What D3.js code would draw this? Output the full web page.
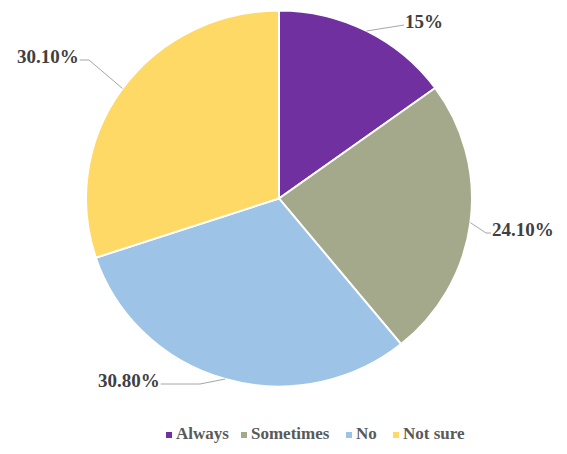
<!DOCTYPE html>
<html><head><meta charset="utf-8">
<script src="https://cdn.jsdelivr.net/npm/d3@7/dist/d3.min.js"></script>
<style>body{margin:0;background:#fff}</style>
</head><body>
<svg id="c" width="567" height="454"></svg>
<script>
const categories = ["Always", "Sometimes", "No", "Not sure"];
const values = [15, 24.1, 30.8, 30.1];
const labels = ["15%", "24.10%", "30.80%", "30.10%"];
const colors = ["#7030A0", "#A3A98A", "#9DC3E6", "#FFD966"];

const svg = d3.select("#c");
const cx = 279, cy = 198.5, rx = 193, ry = 188;
const g = svg.append("g").attr("transform", `translate(${cx},${cy}) scale(1,${ry/rx})`);
const pie = d3.pie().sort(null).value(d => d)(values);
const arc = d3.arc().innerRadius(0).outerRadius(rx);
g.selectAll("path").data(pie).join("path")
  .attr("d", arc).attr("fill", (d,i) => colors[i])
  .attr("stroke", "#fff").attr("stroke-width", 2);

const FONT = "'Liberation Serif'";
const labelPos = [
  {x: 405, y: 28, elbow: null},
  {x: 492, y: 236, elbow: [486, 236]},
  {x: 98, y: 387, elbow: [200, 385], end: "left"},
  {x: 17, y: 63, elbow: [89, 63], end: "left"}
];
pie.forEach((d, i) => {
  const a = (d.startAngle + d.endAngle) / 2;
  const px = cx + rx * Math.sin(a), py = cy - ry * Math.cos(a);
  const t = svg.append("text").attr("x", labelPos[i].x).attr("y", labelPos[i].y)
    .style("font-family", FONT).style("font-weight", "bold").style("font-size", "19px")
    .attr("fill", "#404040")
    .text(labels[i]);
  const bb = t.node().getBBox();
  let pts;
  const ly = labelPos[i].y - 4;
  if (labelPos[i].end === "left") {
    const lx = bb.x + bb.width + 1;
    pts = [[lx, ly + 1], labelPos[i].elbow ? [labelPos[i].elbow[0], ly + 1] : null, [px, py]].filter(Boolean);
  } else {
    const lx = bb.x - 1;
    pts = [[px, py], labelPos[i].elbow ? [labelPos[i].elbow[0], ly + 1] : null, [lx, ly + 1]].filter(Boolean);
  }
  svg.append("path").attr("d", d3.line()(pts)).attr("fill", "none")
    .attr("stroke", "#A6A6A6").attr("stroke-width", 1);
});

const legX = [166, 241, 346, 393];
const leg = svg.append("g");
categories.forEach((c, i) => {
  leg.append("rect").attr("x", legX[i]).attr("y", 432).attr("width", 6).attr("height", 6).attr("fill", colors[i]);
  leg.append("text").attr("x", legX[i] + 10).attr("y", 439)
    .style("font-family", FONT).style("font-weight", "bold").style("font-size", "17px")
    .attr("fill", "#595959")
    .text(c);
});
</script>
</body></html>
